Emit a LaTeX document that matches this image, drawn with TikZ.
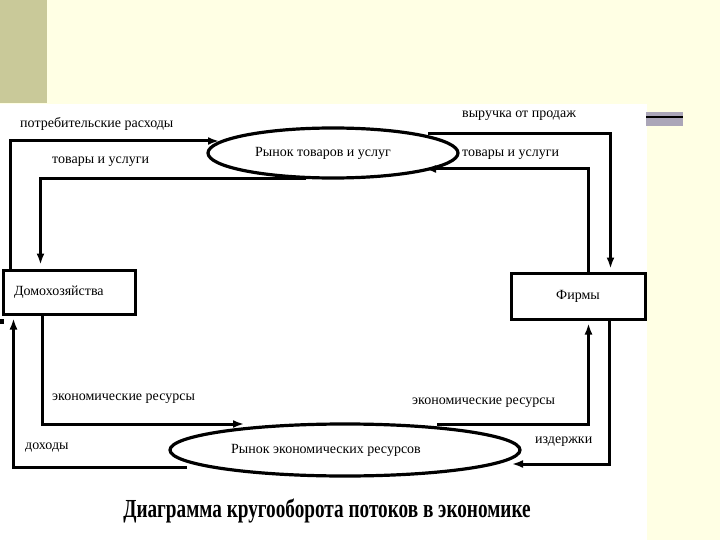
\documentclass[tikz,border=0pt]{standalone}
\usepackage{fontspec}
\setmainfont{Liberation Serif}
\usetikzlibrary{shapes.geometric,arrows.meta,calc}
\definecolor{slideyellow}{RGB}{255,255,228}
\definecolor{slidekhaki}{RGB}{201,201,153}
\definecolor{bargrey}{RGB}{171,166,184}

\begin{document}
\begin{tikzpicture}[x=1pt, y=-1pt,
  flow/.style={line width=3pt, -{Latex[length=11pt,width=8pt]}},
  agent/.style={draw, line width=3pt, font=\fontsize{14}{16}\selectfont},
  market/.style={ellipse, draw, line width=3.2pt, inner sep=0pt, font=\fontsize{14}{16}\selectfont},
  lbl/.style={anchor=west, inner sep=0pt, font=\fontsize{14}{16}\selectfont}]
\useasboundingbox (0,0) rectangle (720,540);
\fill[slideyellow] (0,0) rectangle (720,540);
\fill[slidekhaki] (0,0) rectangle (47,103);
\fill[white] (0,104) rectangle (647,540);
\fill[bargrey] (646,112) rectangle (683,126);
\draw[line width=2pt] (646,117.5) -- (683,117.5);
\fill[black] (0,319) rectangle (4,324);

\node[agent, minimum width=132pt, minimum height=44pt, inner xsep=11pt, text width=110pt, align=left] (hh) at (69,292) {Домохозяйства};
\node[agent, minimum width=134pt, minimum height=46pt] (fm) at (578,296) {Фирмы};
\node[market, minimum width=250pt, minimum height=50pt] (gmkt) at (333,153) {Рынок товаров и услуг\hspace*{20pt}};
\node[market, minimum width=350pt, minimum height=52pt] (rmkt) at (345,450) {Рынок экономических ресурсов\hspace*{38pt}};

\node[lbl] (lspend) at (20,124) {потребительские расходы};
\node[lbl] (lgoodsl) at (52,162) {товары и услуги};
\node[lbl] (lrev) at (462,116) {выручка от продаж};
\node[lbl] (lgoodsr) at (462,155) {товары и услуги};
\node[lbl] (lresl) at (52,399) {экономические ресурсы};
\node[lbl] (linc) at (25,448) {доходы};
\node[lbl] (lresr) at (412,403) {экономические ресурсы};
\node[lbl] (lcost) at (535,442) {издержки};
\node[font=\bfseries\fontsize{26}{30}\selectfont] (title) at (327,511) {\scalebox{0.74}[1]{Диаграмма кругооборота потоков в экономике}};

\draw[flow] ($(hh.north west)+(9,0)$) |- ($(gmkt.center)+(-114,-12)$);
\draw[flow] ($(gmkt.south)+(-27,-1)$) -| ($(hh.north west)+(39,-4)$);
\draw[flow] ($(gmkt.center)+(95,-19)$) -| ($(fm.north west)+(101,-3)$);
\draw[flow] ($(fm.north west)+(79,0)$) |- ($(gmkt.center)+(92,16)$);
\draw[flow] ($(hh.south west)+(41,0)$) |- ($(rmkt.center)+(-101,-26)$);
\draw[flow] ($(rmkt.center)+(-158,17)$) -| ($(hh.south west)+(12,3)$);
\draw[flow] ($(rmkt.center)+(92,-26)$) -| ($(fm.south west)+(79,3)$);
\draw[flow] ($(fm.south west)+(100,0)$) |- ($(rmkt.center)+(167,14)$);
\end{tikzpicture}
\end{document}
